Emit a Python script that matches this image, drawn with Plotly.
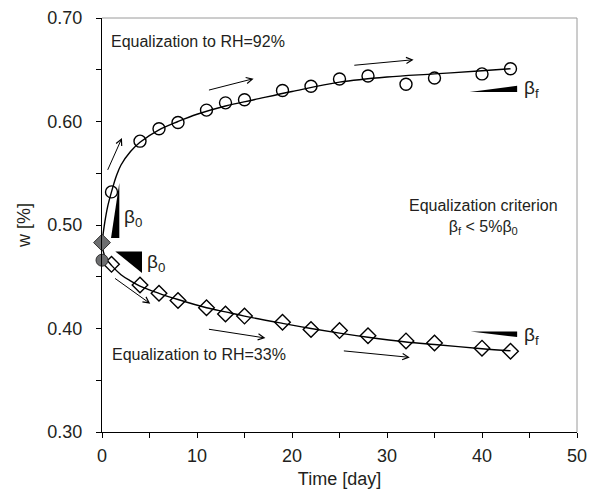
import plotly.graph_objects as go

# ---- data ----
days_92 = [1, 4, 6, 8, 11, 13, 15, 19, 22, 25, 28, 32, 35, 40, 43]
w_92 = [0.532, 0.581, 0.593, 0.599, 0.611, 0.618, 0.621, 0.630, 0.634, 0.641,
        0.644, 0.636, 0.642, 0.646, 0.651]

days_33 = [1, 4, 6, 8, 11, 13, 15, 19, 22, 25, 28, 32, 35, 40, 43]
w_33 = [0.462, 0.442, 0.434, 0.427, 0.420, 0.414, 0.412, 0.406, 0.399, 0.398,
        0.393, 0.388, 0.386, 0.381, 0.378]

init_day = [0]
init_w_diamond = [0.483]
init_w_circle = [0.466]

fit92_x = [0, 0.3, 0.6, 1, 1.5, 2, 3, 4, 6, 8, 10, 13, 16, 20, 25, 30, 35, 40, 43]
fit92_y = [0.483, 0.503, 0.518, 0.532, 0.547, 0.558, 0.571, 0.580, 0.592, 0.600,
           0.607, 0.615, 0.621, 0.629, 0.638, 0.643, 0.646, 0.649, 0.651]

fit33_x = [0, 0.15, 0.4, 1, 2, 3, 4, 6, 8, 11, 13, 15, 19, 22, 25, 28, 32, 35, 40, 43]
fit33_y = [0.483, 0.474, 0.468, 0.461, 0.452, 0.446, 0.441, 0.434, 0.428, 0.420,
           0.416, 0.412, 0.405, 0.400, 0.3955, 0.3915, 0.387, 0.3845, 0.3805, 0.3785]

x_ticks = [0, 10, 20, 30, 40, 50]
y_ticks = [0.30, 0.40, 0.50, 0.60, 0.70]

FONT = "Liberation Sans, Arial, sans-serif"
TXT = "#231f20"

fig = go.Figure()

fig.add_trace(go.Scatter(x=fit92_x, y=fit92_y, mode="lines", cliponaxis=False,
                         line=dict(color="black", width=1.4, shape="spline"), showlegend=False))
fig.add_trace(go.Scatter(x=fit33_x, y=fit33_y, mode="lines", cliponaxis=False,
                         line=dict(color="black", width=1.4, shape="spline"), showlegend=False))

fig.add_trace(go.Scatter(x=days_92, y=w_92, mode="markers", cliponaxis=False,
                         marker=dict(symbol="circle", size=12, color="rgba(255,255,255,0)",
                                     line=dict(color="black", width=1.4)), showlegend=False))
fig.add_trace(go.Scatter(x=days_33, y=w_33, mode="markers", cliponaxis=False,
                         marker=dict(symbol="diamond", size=12, color="rgba(255,255,255,0)",
                                     line=dict(color="black", width=1.4)), showlegend=False))
fig.add_trace(go.Scatter(x=init_day, y=init_w_diamond, mode="markers", cliponaxis=False,
                         marker=dict(symbol="diamond", size=13, color="#6d6e70",
                                     line=dict(color="#333", width=1)), showlegend=False))
fig.add_trace(go.Scatter(x=init_day, y=init_w_circle, mode="markers", cliponaxis=False,
                         marker=dict(symbol="circle", size=12, color="#6d6e70",
                                     line=dict(color="#333", width=1)), showlegend=False))

shapes = []
# slope triangles
tri = [
    [(1.82, 0.5406), (0.95, 0.4874), (1.82, 0.4874)],
    [(1.4, 0.4745), (4.21, 0.4745), (4.21, 0.4536)],
    [(38.7, 0.6285), (43.7, 0.6346), (43.7, 0.6285)],
    [(38.8, 0.3972), (43.7, 0.3972), (43.7, 0.3918)],
]
for t in tri:
    path = "M {} {} L {} {} L {} {} Z".format(t[0][0], t[0][1], t[1][0], t[1][1], t[2][0], t[2][1])
    shapes.append(dict(type="path", path=path, xref="x", yref="y", fillcolor="black", line=dict(width=0)))
# gray top/right frame
shapes.append(dict(type="line", xref="paper", yref="paper", x0=0, x1=1, y0=1, y1=1, line=dict(color="#9a9a9a", width=1)))
shapes.append(dict(type="line", xref="paper", yref="paper", x0=1, x1=1, y0=0, y1=1, line=dict(color="#9a9a9a", width=1)))

ann = []
arrows = [
    ((0.53, 0.5518), (2.1, 0.5841)),
    ((11.1, 0.630), (15.96, 0.6414)),
    ((26.4, 0.6542), (32.8, 0.6597)),
    ((1.22, 0.4494), (5.08, 0.4240)),
    ((11.1, 0.3995), (17.2, 0.3908)),
    ((25.3, 0.3785), (32.4, 0.3721)),
]
for (tx, ty), (hx, hy) in arrows:
    ann.append(dict(x=hx, y=hy, ax=tx, ay=ty, xref="x", yref="y", axref="x", ayref="y",
                    showarrow=True, arrowhead=5, arrowsize=1.2, arrowwidth=1, arrowcolor="black", text=""))

tf = dict(family=FONT, size=16, color=TXT)
ann.append(dict(x=0.7, y=0.677, xref="x", yref="y", text="Equalization to RH=92%", showarrow=False, xanchor="left", yanchor="middle", font=tf))
ann.append(dict(x=0.88, y=0.3747, xref="x", yref="y", text="Equalization to RH=33%", showarrow=False, xanchor="left", yanchor="middle", font=tf))
ann.append(dict(x=40.2, y=0.508, xref="x", yref="y", text="Equalization criterion<br>β<sub>f</sub> < 5%β<sub>0</sub>", showarrow=False, xanchor="center", yanchor="middle", font=tf))

bf = dict(family=FONT, size=19, color=TXT)
ann.append(dict(x=2.1, y=0.5068, xref="x", yref="y", text="β<sub>0</sub>", showarrow=False, xanchor="left", yanchor="middle", font=bf))
ann.append(dict(x=4.56, y=0.4636, xref="x", yref="y", text="β<sub>0</sub>", showarrow=False, xanchor="left", yanchor="middle", font=bf))
ann.append(dict(x=44.2, y=0.6314, xref="x", yref="y", text="β<sub>f</sub>", showarrow=False, xanchor="left", yanchor="middle", font=bf))
ann.append(dict(x=44.2, y=0.393, xref="x", yref="y", text="β<sub>f</sub>", showarrow=False, xanchor="left", yanchor="middle", font=bf))

axfont = dict(family=FONT, size=18, color=TXT)
fig.update_layout(
    width=589, height=494,
    margin=dict(l=102, r=12, t=18, b=62, autoexpand=False),
    paper_bgcolor="white", plot_bgcolor="white",
    shapes=shapes, annotations=ann,
    font=dict(family=FONT, color=TXT),
)
fig.update_xaxes(range=[0, 50], tickvals=x_ticks, ticktext=[str(v) for v in x_ticks],
                 showgrid=False, zeroline=False, showline=True, linecolor="black", linewidth=1,
                 ticks="outside", ticklen=5, tickcolor="black", automargin=False,
                 minor=dict(dtick=5, ticks="outside", ticklen=5, tickcolor="black"),
                 tickfont=axfont, ticklabelstandoff=2,
                 title=dict(text="Time [day]", font=dict(family=FONT, size=18, color=TXT), standoff=7))
fig.update_yaxes(range=[0.30, 0.70], tickvals=y_ticks, ticktext=["%.2f" % v for v in y_ticks],
                 showgrid=False, zeroline=False, showline=True, linecolor="black", linewidth=1,
                 ticks="outside", ticklen=5, tickcolor="black", automargin=False,
                 minor=dict(dtick=0.05, ticks="outside", ticklen=5, tickcolor="black"),
                 tickfont=axfont, ticklabelstandoff=10,
                 title=dict(text="w [%]", font=dict(family=FONT, size=18, color=TXT), standoff=12))

fig.write_html("out.html", config={"displayModeBar": False},
               post_script="document.body.style.margin='0';document.body.style.overflow='hidden';")
